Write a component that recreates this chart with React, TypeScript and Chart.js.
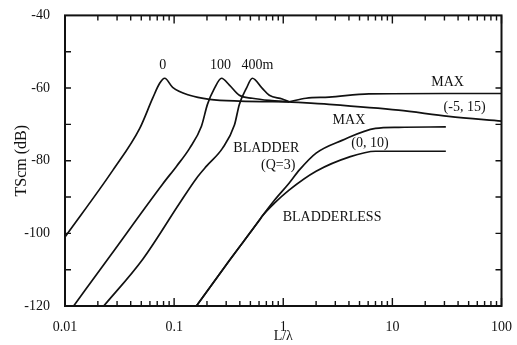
import React, { useEffect, useRef } from "react";
import { Chart, registerables } from "chart.js";

Chart.register(...registerables);

// ---- Data (L/λ on log x axis, TScm in dB on y axis) ----
const curve0X = [0.01, 0.0275, 0.0484, 0.0636, 0.0737, 0.0819, 0.0969, 0.1385, 0.211, 0.396, 1.13];
const curve0Y = [-101.0, -82.6, -71.1, -62.8, -58.7, -57.3, -59.8, -62.0, -63.1, -63.6, -63.8];

const curve100X = [0.0118, 0.0258, 0.0786, 0.1054, 0.1385, 0.178, 0.202, 0.234, 0.272, 0.321, 0.396, 0.521, 0.745, 1.13];
const curve100Y = [-120.3, -106.3, -86.4, -81.5, -76.6, -70.5, -64.5, -60.1, -57.3, -59.2, -62.0, -62.8, -63.4, -63.8];

const curve400X = [0.0222, 0.0516, 0.1122, 0.1605, 0.198, 0.277, 0.357, 0.396, 0.459, 0.521, 0.643, 0.745, 0.979, 1.13];
const curve400Y = [-120.3, -107.1, -91.7, -84.8, -81.5, -76.6, -70.2, -64.5, -60.1, -57.3, -60.1, -62.0, -63.0, -63.8];

const bladderMaxX = [1.13, 1.62, 2.63, 6.1, 30, 100];
const bladderMaxY = [-63.8, -62.8, -62.5, -61.6, -61.5, -61.5];

const bladderTiltX = [1.13, 2.63, 11.4, 32.8, 100];
const bladderTiltY = [-63.8, -64.5, -66.1, -67.8, -69.1];

const bladderlessMaxX = [0.16, 0.322, 0.603, 0.64, 0.83, 1.13, 1.4, 2.0, 3.46, 7.0, 11.4, 30.9];
const bladderlessMaxY = [-120.0, -107.4, -96.4, -95.3, -90.9, -86.2, -82.6, -77.9, -74.4, -71.1, -70.8, -70.7];

const bladderlessTiltX = [0.16, 0.322, 0.603, 0.64, 0.83, 1.13, 2.0, 4.0, 7.0, 30.9];
const bladderlessTiltY = [-120.0, -107.4, -96.4, -95.3, -91.7, -88.1, -82.9, -79.0, -77.4, -77.4];

// Axis ticks / labels
const xMajorTicks = [0.01, 0.1, 1, 10, 100];
const xMinorMultipliers = [2, 3, 4, 5, 6, 7, 8, 9];
const yLabelTicks = [-120, -100, -80, -60, -40];
const yMinorTicks = [-110, -100, -90, -80, -70, -60, -50];

// Annotation texts and their anchor positions in data units
const noteTexts = ["0", "100", "400m", "MAX", "(-5, 15)", "MAX", "(0, 10)", "BLADDER", "(Q=3)", "BLADDERLESS"];
const noteX = [0.0786, 0.266, 0.579, 32.1, 45.9, 4.0, 6.23, 0.70, 0.90, 2.80];
const noteY = [-53.7, -53.7, -53.7, -58.4, -65.3, -68.9, -75.2, -76.6, -81.2, -95.5];

const FONT = "'Liberation Serif', 'Times New Roman', serif";
const INK = "#111111";

const zip = (xs: number[], ys: number[]) => xs.map((x, i) => ({ x, y: ys[i] }));

const framePlugin = {
  id: "frameAndTicks",
  afterDatasetsDraw(chart: any) {
    const { ctx, chartArea } = chart;
    const xs = chart.scales.x;
    const ys = chart.scales.y;
    const { left, right, top, bottom } = chartArea;
    ctx.save();
    ctx.strokeStyle = INK;
    ctx.lineWidth = 1.4;
    ctx.beginPath();
    const xTickVals: { v: number; major: boolean }[] = [];
    xMajorTicks.forEach((d, i) => {
      xTickVals.push({ v: d, major: true });
      if (i < xMajorTicks.length - 1) xMinorMultipliers.forEach((m) => xTickVals.push({ v: d * m, major: false }));
    });
    xTickVals.forEach(({ v, major }) => {
      const px = xs.getPixelForValue(v);
      const len = major ? 8 : 5;
      ctx.moveTo(px, bottom);
      ctx.lineTo(px, bottom - len);
      ctx.moveTo(px, top);
      ctx.lineTo(px, top + len);
    });
    yMinorTicks.forEach((v) => {
      const py = ys.getPixelForValue(v);
      ctx.moveTo(left, py);
      ctx.lineTo(left + 6, py);
      ctx.moveTo(right, py);
      ctx.lineTo(right - 6, py);
    });
    ctx.stroke();
    ctx.lineWidth = 2;
    ctx.strokeRect(left, top, right - left, bottom - top);
    ctx.fillStyle = INK;
    ctx.font = `14px ${FONT}`;
    ctx.textAlign = "center";
    ctx.textBaseline = "middle";
    noteTexts.forEach((t, i) => {
      ctx.fillText(t, xs.getPixelForValue(noteX[i]), ys.getPixelForValue(noteY[i]));
    });
    ctx.restore();
  },
};

export default function App() {
  const canvasRef = useRef<HTMLCanvasElement | null>(null);

  useEffect(() => {
    document.body.style.margin = "0";
    const canvas = canvasRef.current;
    if (!canvas) return;
    const line = (xs: number[], ys: number[]) => ({
      data: zip(xs, ys),
      showLine: true,
      borderColor: INK,
      borderWidth: 1.7,
      pointRadius: 0,
      fill: false,
      cubicInterpolationMode: "monotone" as const,
    });
    const chart = new Chart(canvas, {
      type: "scatter",
      data: {
        datasets: [
          line(curve0X, curve0Y),
          line(curve100X, curve100Y),
          line(curve400X, curve400Y),
          line(bladderMaxX, bladderMaxY),
          line(bladderTiltX, bladderTiltY),
          line(bladderlessMaxX, bladderlessMaxY),
          line(bladderlessTiltX, bladderlessTiltY),
        ],
      },
      options: {
        animation: false,
        responsive: false,
        maintainAspectRatio: false,
        layout: { padding: { left: 0, top: 15, right: 14, bottom: 0 } },
        plugins: { legend: { display: false }, tooltip: { enabled: false } },
        scales: {
          x: {
            type: "logarithmic",
            min: 0.01,
            max: 100,
            grid: { display: false },
            border: { display: false },
            afterBuildTicks: (s: any) => {
              s.ticks = xMajorTicks.map((v) => ({ value: v }));
            },
            afterFit: (s: any) => {
              s.height = 39;
            },
            ticks: {
              color: INK,
              font: { family: FONT, size: 14 },
              padding: 5,
              maxRotation: 0,
              autoSkip: false,
              callback: (v: any) => String(v),
            },
            title: {
              display: true,
              text: "L/λ",
              color: INK,
              font: { family: FONT, size: 14 },
              padding: { top: 0, bottom: 0 },
            },
          },
          y: {
            min: -120,
            max: -40,
            grid: { display: false },
            border: { display: false },
            afterBuildTicks: (s: any) => {
              s.ticks = yLabelTicks.map((v) => ({ value: v }));
            },
            afterFit: (s: any) => {
              s.width = 65;
            },
            ticks: {
              color: INK,
              font: { family: FONT, size: 14 },
              padding: 7,
              callback: (v: any) => String(v),
            },
            title: {
              display: true,
              text: "TScm (dB)",
              color: INK,
              font: { family: FONT, size: 16 },
              padding: { top: 12, bottom: 0 },
            },
          },
        },
      },
      plugins: [framePlugin],
    });
    return () => chart.destroy();
  }, []);

  return (
    <div style={{ position: "fixed", left: 0, top: 0, width: 517, height: 345, background: "#fff" }}>
      <canvas ref={canvasRef} width={517} height={345} style={{ width: 517, height: 345 }} />
    </div>
  );
}
